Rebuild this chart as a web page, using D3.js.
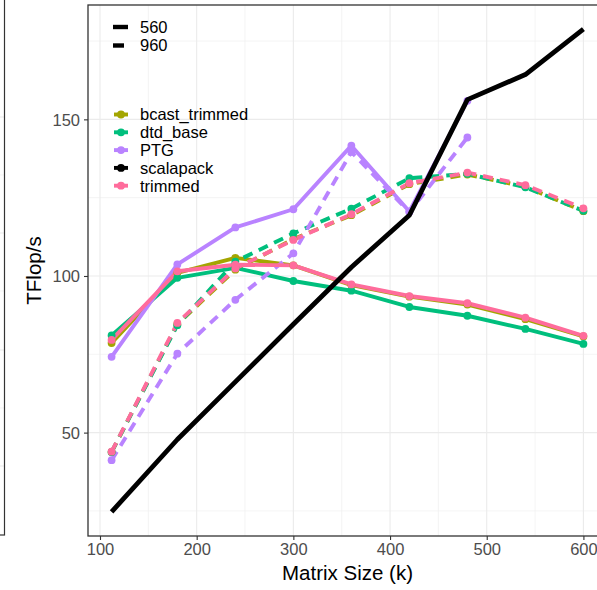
<!DOCTYPE html>
<html>
<head>
<meta charset="utf-8">
<script src="https://cdn.jsdelivr.net/npm/d3@7"></script>
<style>
	body { margin: 0; background: #fff; }
	svg { display: block; font-family: "Liberation Sans", Arial, Helvetica, sans-serif; }
	.grid-major { stroke: #ebebeb; stroke-width: 1.1; }
	.grid-minor { stroke: #efefef; stroke-width: 0.7; }
	.axis path { display: none; }
	.axis line { stroke: #333; stroke-width: 1.1; }
	.axis text { fill: #4d4d4d; font-size: 16.5px; }
</style>
</head>
<body>
<div id="chart"></div>
<script>
// matrix sizes (k) on the x axis
const sizes = [112, 180, 240, 300, 360, 420, 480, 540, 600];
const ptgSizes = [112, 180, 240, 300, 360, 420, 480];

// TFlop/s, 560 and 960 nodes
const bcast560 = [78.6, 101.0, 105.8, 103.4, 97.1, 93.4, 90.9, 86.2, 80.7];
const bcast960 = [43.8, 84.6, 102.0, 111.8, 119.4, 129.3, 132.4, 128.5, 120.7];
const dtd560 = [81.0, 99.4, 102.6, 98.4, 95.3, 90.1, 87.3, 83.1, 78.3];
const dtd960 = [43.8, 84.3, 104.6, 113.6, 121.5, 131.2, 132.6, 128.3, 120.8];
const ptg560 = [74.2, 103.7, 115.5, 121.3, 141.6, 120.6, 155.9];
const ptg960 = [41.2, 75.2, 92.4, 107.2, 139.6, 120.4, 144.2];
const scalapack560 = [24.7, 47.8, 66.2, 84.6, 102.8, 119.4, 156.3, 164.3, 178.8];
const trimmed560 = [79.6, 101.5, 103.6, 103.4, 97.3, 93.6, 91.3, 86.7, 80.9];
const trimmed960 = [43.9, 85.0, 102.4, 111.5, 119.7, 129.6, 133.0, 129.0, 121.6];

const methods = ['bcast_trimmed', 'dtd_base', 'PTG', 'scalapack', 'trimmed'];
const colors = ['#a3a500', '#00bf7d', '#b983ff', '#000000', '#ff6c9c'];
const nodeCounts = ['560', '960'];

const xTicks = [100, 200, 300, 400, 500, 600];
const xMinor = [150, 250, 350, 450, 550];
const yTicks = [50, 100, 150];
const yMinor = [25, 75, 125, 175];

const series = [
	{ method: 'bcast_trimmed', nodes: '560', x: sizes, y: bcast560 },
	{ method: 'bcast_trimmed', nodes: '960', x: sizes, y: bcast960 },
	{ method: 'dtd_base', nodes: '560', x: sizes, y: dtd560 },
	{ method: 'dtd_base', nodes: '960', x: sizes, y: dtd960 },
	{ method: 'PTG', nodes: '560', x: ptgSizes, y: ptg560 },
	{ method: 'PTG', nodes: '960', x: ptgSizes, y: ptg960 },
	{ method: 'trimmed', nodes: '560', x: sizes, y: trimmed560 },
	{ method: 'trimmed', nodes: '960', x: sizes, y: trimmed960 },
	{ method: 'scalapack', nodes: '560', x: sizes, y: scalapack560 }
].map(s => ({ ...s, points: s.x.map((v, i) => ({ x: v, y: s.y[i] })) }));

const width = 597;
const height = 590;
const panel = { left: 88, top: 5, width: 519, height: 531 };
const dashed = '10,7';

const color = d3.scaleOrdinal().domain(methods).range(colors);

// ggplot style 5% expansion
function expand(ext) {
	const pad = (ext[1] - ext[0]) * 0.05;
	return [ext[0] - pad, ext[1] + pad];
}
const allX = series.flatMap(s => s.x);
const allY = series.flatMap(s => s.y);

const xScale = d3.scaleLinear()
	.domain(expand(d3.extent(allX)))
	.range([0, panel.width]);
const yScale = d3.scaleLinear()
	.domain(expand(d3.extent(allY)))
	.range([panel.height, 0]);

const svg = d3.select('#chart')
	.append('svg')
		.attr('width', width)
		.attr('height', height);

// edge of the neighbouring panel on the left
const side = svg.append('g').attr('class', 'side-panel');
[117, 175, 233, 291, 350, 408, 466].forEach((y, i) => {
	side.append('line')
		.attr('class', i % 2 ? 'grid-minor' : 'grid-major')
		.attr('x1', 0).attr('x2', 4)
		.attr('y1', y).attr('y2', y);
});
side.append('rect')
	.attr('x', -20)
	.attr('y', -20)
	.attr('width', 24.5)
	.attr('height', 555)
	.attr('fill', 'none')
	.attr('stroke', '#333')
	.attr('stroke-width', 1.2);

const body = svg.append('g')
	.attr('transform', `translate(${panel.left},${panel.top})`);

// grid
const grid = body.append('g').attr('class', 'grid');
grid.selectAll('.vx-minor')
	.data(xMinor)
	.enter()
		.append('line')
			.attr('class', 'grid-minor')
			.attr('x1', d => xScale(d)).attr('x2', d => xScale(d))
			.attr('y1', 0).attr('y2', panel.height);
grid.selectAll('.hy-minor')
	.data(yMinor)
	.enter()
		.append('line')
			.attr('class', 'grid-minor')
			.attr('x1', 0).attr('x2', panel.width)
			.attr('y1', d => yScale(d)).attr('y2', d => yScale(d));
grid.selectAll('.vx-major')
	.data(xTicks)
	.enter()
		.append('line')
			.attr('class', 'grid-major')
			.attr('x1', d => xScale(d)).attr('x2', d => xScale(d))
			.attr('y1', 0).attr('y2', panel.height);
grid.selectAll('.hy-major')
	.data(yTicks)
	.enter()
		.append('line')
			.attr('class', 'grid-major')
			.attr('x1', 0).attr('x2', panel.width)
			.attr('y1', d => yScale(d)).attr('y2', d => yScale(d));

const line = d3.line()
	.x(d => xScale(d.x))
	.y(d => yScale(d.y));

function drawLine(g, s) {
	const isBlack = s.method === 'scalapack';
	g.append('path')
		.datum(s.points)
		.attr('d', line)
		.attr('fill', 'none')
		.attr('stroke', color(s.method))
		.attr('stroke-width', isBlack ? 4.8 : 3.9)
		.attr('stroke-linejoin', 'round')
		.attr('stroke-dasharray', s.nodes === '960' ? dashed : null);
}

const marks = body.append('g').attr('class', 'marks');
const coloured = series.filter(s => s.method !== 'scalapack');

coloured.forEach(s => drawLine(marks, s));

coloured.forEach(s => {
	marks.selectAll(null)
		.data(s.points)
		.enter()
			.append('circle')
				.attr('cx', d => xScale(d.x))
				.attr('cy', d => yScale(d.y))
				.attr('r', 3.9)
				.attr('fill', color(s.method));
});

series.filter(s => s.method === 'scalapack').forEach(s => drawLine(marks, s));

// panel border
body.append('rect')
	.attr('width', panel.width)
	.attr('height', panel.height)
	.attr('fill', 'none')
	.attr('stroke', '#333')
	.attr('stroke-width', 1.3);

// axes
body.append('g')
	.attr('class', 'axis')
	.attr('transform', `translate(0,${panel.height})`)
	.call(d3.axisBottom(xScale).tickValues(xTicks).tickSize(4).tickPadding(3))
	.selectAll('text')
		.attr('dy', '0.72em');

body.append('g')
	.attr('class', 'axis')
	.call(d3.axisLeft(yScale).tickValues(yTicks).tickSize(4).tickPadding(4))
	.selectAll('text')
		.attr('dy', '0.36em');

svg.append('text')
	.attr('x', panel.left + panel.width / 2)
	.attr('y', 580)
	.attr('text-anchor', 'middle')
	.attr('font-size', '20.5px')
	.attr('fill', '#000')
	.text('Matrix Size (k)');

svg.append('text')
	.attr('transform', `translate(41,${panel.top + panel.height / 2}) rotate(-90)`)
	.attr('text-anchor', 'middle')
	.attr('font-size', '20.5px')
	.attr('fill', '#000')
	.text('TFlop/s');

// legends
const legend = svg.append('g').attr('class', 'legend');
const keyX = 113;
const keyLen = 15;
const labelX = 140;

nodeCounts.forEach((n, i) => {
	const y = 27 + i * 18.5;
	legend.append('line')
		.attr('x1', keyX).attr('x2', keyX + keyLen)
		.attr('y1', y).attr('y2', y)
		.attr('stroke', '#000')
		.attr('stroke-width', 4.4)
		.attr('stroke-dasharray', n === '960' ? '11,8' : null);
	legend.append('text')
		.attr('x', labelX)
		.attr('y', y)
		.attr('dy', '0.36em')
		.attr('font-size', '16.5px')
		.text(n);
});

methods.forEach((m, i) => {
	const y = 114.5 + i * 17.8;
	legend.append('line')
		.attr('x1', keyX + 1).attr('x2', keyX + keyLen)
		.attr('y1', y).attr('y2', y)
		.attr('stroke', color(m))
		.attr('stroke-width', 3.9);
	legend.append('circle')
		.attr('cx', keyX + keyLen / 2 + 0.5)
		.attr('cy', y)
		.attr('r', 3.9)
		.attr('fill', color(m));
	legend.append('text')
		.attr('x', labelX)
		.attr('y', y)
		.attr('dy', '0.36em')
		.attr('font-size', '16.5px')
		.text(m);
});
</script>
</body>
</html>
